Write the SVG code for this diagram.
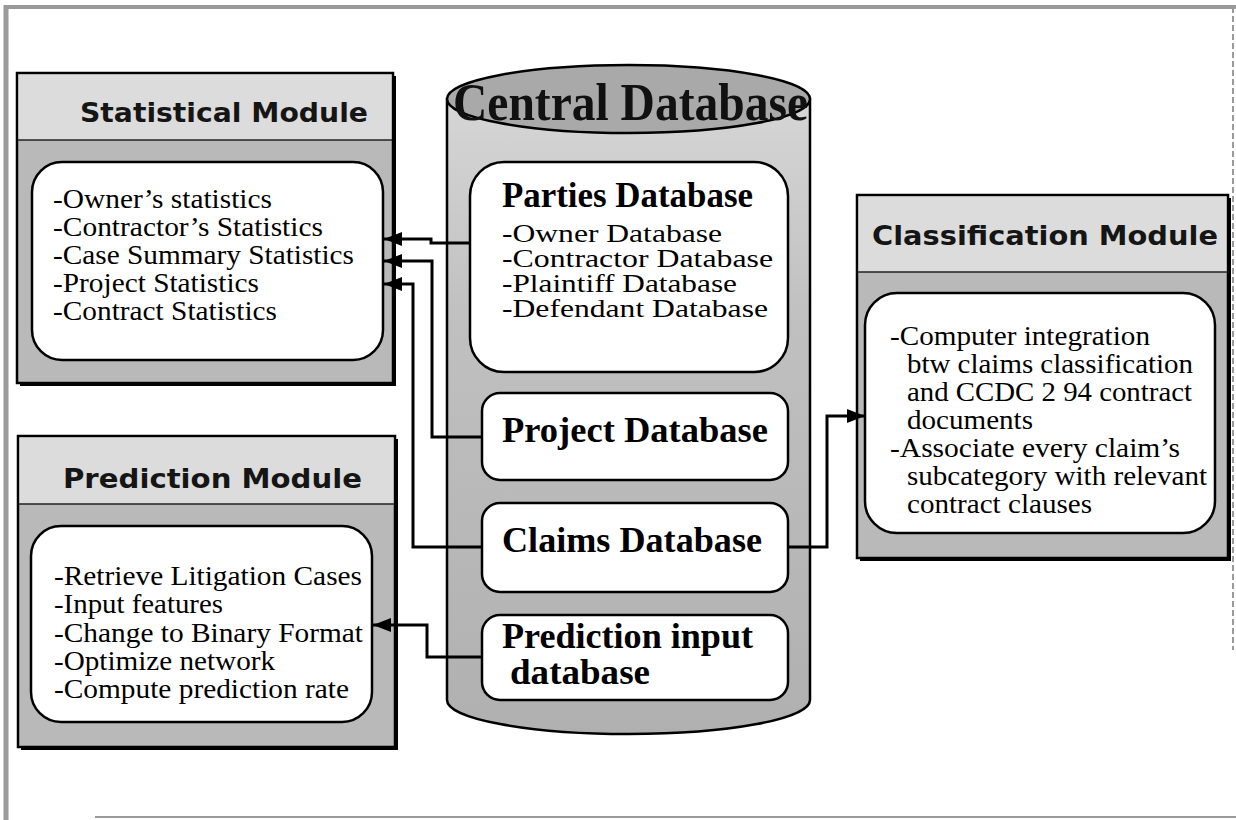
<svg xmlns="http://www.w3.org/2000/svg" width="1236" height="820" viewBox="0 0 1236 820">
  <defs>
    <linearGradient id="cylFill" x1="0" y1="0" x2="0" y2="1">
      <stop offset="0" stop-color="#d6d6d6"/>
      <stop offset="0.35" stop-color="#c0c0c0"/>
      <stop offset="1" stop-color="#b0b0b0"/>
    </linearGradient>
    <marker id="arrow" markerUnits="userSpaceOnUse" markerWidth="20" markerHeight="14" refX="18" refY="7" orient="auto">
      <path d="M0,0 L18,7 L0,14 z" fill="#000"/>
    </marker>
  </defs>
  <style>
    .frame { fill: none; stroke: #9a9a9a; }
    .mod-body { fill: #b9b9b9; stroke: #000; stroke-width: 2.5; }
    .mod-head { fill: #dcdcdc; }
    .sep { stroke: #222; stroke-width: 1.5; }
    .shadow { fill: none; stroke: #000; stroke-width: 4; }
    .panel { fill: #fff; stroke: #000; stroke-width: 2.5; }
    .mod-title { font-family: "DejaVu Sans", Verdana, sans-serif; font-weight: bold; font-size: 27px; fill: #151515; }
    .body { font-family: "Liberation Serif", "Times New Roman", serif; font-size: 27px; fill: #000; }
    .body.tight { font-size: 25px; }
    .db-title { font-family: "Liberation Serif", "Times New Roman", serif; font-weight: bold; font-size: 35px; fill: #000; }
    .cyl-title { font-family: "Liberation Serif", "Times New Roman", serif; font-weight: bold; font-size: 52px; fill: #111; }
    .wire { fill: none; stroke: #000; stroke-width: 3; stroke-linejoin: miter; }
  </style>

  <rect width="1236" height="820" fill="#fff"/>

  <!-- page frame -->
  <g id="frame">
    <line class="frame" x1="6" y1="5" x2="6" y2="820" stroke-width="5"/>
    <line class="frame" x1="4" y1="7" x2="1236" y2="7" stroke-width="4"/>
    <line class="frame" x1="1233" y1="7" x2="1233" y2="650" stroke-width="2" stroke-dasharray="6 3"/>
    <line class="frame" x1="95" y1="817" x2="1236" y2="817" stroke-width="2"/>
  </g>

  <!-- Statistical Module -->
  <g id="statistical-module">
    <rect class="mod-body" x="17" y="73" width="376" height="310"/>
    <rect class="mod-head" x="18.5" y="74.5" width="373" height="65.5"/>
    <line class="sep" x1="18" y1="140" x2="392" y2="140"/>
    <polyline class="shadow" points="394,76 394,384 20,384"/>
    <text class="mod-title" x="80" y="122" textLength="288" lengthAdjust="spacingAndGlyphs">Statistical Module</text>
    <rect class="panel" x="32" y="162" width="351" height="198" rx="30"/>
    <text class="body" x="53" y="208" textLength="219" lengthAdjust="spacingAndGlyphs">-Owner’s statistics</text>
    <text class="body" x="53" y="236" textLength="270" lengthAdjust="spacingAndGlyphs">-Contractor’s Statistics</text>
    <text class="body" x="53" y="264" textLength="301" lengthAdjust="spacingAndGlyphs">-Case Summary Statistics</text>
    <text class="body" x="53" y="292" textLength="206" lengthAdjust="spacingAndGlyphs">-Project Statistics</text>
    <text class="body" x="53" y="320" textLength="224" lengthAdjust="spacingAndGlyphs">-Contract Statistics</text>
  </g>

  <!-- Prediction Module -->
  <g id="prediction-module">
    <rect class="mod-body" x="18" y="436" width="377" height="311"/>
    <rect class="mod-head" x="19.5" y="437.5" width="374" height="66.5"/>
    <line class="sep" x1="19" y1="504" x2="394" y2="504"/>
    <polyline class="shadow" points="396,439 396,748 21,748"/>
    <text class="mod-title" x="63" y="488" textLength="299" lengthAdjust="spacingAndGlyphs">Prediction Module</text>
    <rect class="panel" x="31" y="526" width="341" height="196" rx="30"/>
    <text class="body" x="54" y="585" textLength="308" lengthAdjust="spacingAndGlyphs">-Retrieve Litigation Cases</text>
    <text class="body" x="54" y="613" textLength="169" lengthAdjust="spacingAndGlyphs">-Input features</text>
    <text class="body" x="54" y="642" textLength="309" lengthAdjust="spacingAndGlyphs">-Change to Binary Format</text>
    <text class="body" x="54" y="670" textLength="221" lengthAdjust="spacingAndGlyphs">-Optimize network</text>
    <text class="body" x="54" y="698" textLength="295" lengthAdjust="spacingAndGlyphs">-Compute prediction rate</text>
  </g>

  <!-- Central Database cylinder -->
  <g id="central-database">
    <path d="M447,99 V700 A181.5,34 0 0 0 810,700 V99 Z" fill="url(#cylFill)" stroke="#000" stroke-width="2.5"/>
    <ellipse cx="628.5" cy="99" rx="181.5" ry="34" fill="#a9a9a9" stroke="#000" stroke-width="2.5"/>
    <text class="cyl-title" x="453" y="120" textLength="355" lengthAdjust="spacingAndGlyphs">Central Database</text>
  </g>

  <g id="parties-database">
    <rect class="panel" x="470" y="162" width="318" height="210" rx="34"/>
    <text class="db-title" x="502" y="207" textLength="251" lengthAdjust="spacingAndGlyphs">Parties Database</text>
    <text class="body tight">
      <tspan x="502" y="242" textLength="220" lengthAdjust="spacingAndGlyphs">-Owner Database</tspan>
      <tspan x="502" y="267" textLength="271" lengthAdjust="spacingAndGlyphs">-Contractor Database</tspan>
      <tspan x="502" y="292" textLength="235" lengthAdjust="spacingAndGlyphs">-Plaintiff Database</tspan>
      <tspan x="502" y="317" textLength="266" lengthAdjust="spacingAndGlyphs">-Defendant Database</tspan>
    </text>
  </g>

  <g id="project-database">
    <rect class="panel" x="482" y="393" width="306" height="87" rx="18"/>
    <text class="db-title" x="502" y="442" textLength="266" lengthAdjust="spacingAndGlyphs">Project Database</text>
  </g>

  <g id="claims-database">
    <rect class="panel" x="482" y="503" width="306" height="89" rx="18"/>
    <text class="db-title" x="502" y="552" textLength="260" lengthAdjust="spacingAndGlyphs">Claims Database</text>
  </g>

  <g id="prediction-input-database">
    <rect class="panel" x="482" y="615" width="306" height="85" rx="18"/>
    <text class="db-title">
      <tspan x="502" y="648" textLength="251" lengthAdjust="spacingAndGlyphs">Prediction input</tspan>
      <tspan x="510" y="684" textLength="140" lengthAdjust="spacingAndGlyphs">database</tspan>
    </text>
  </g>

  <!-- Classification Module -->
  <g id="classification-module">
    <rect class="mod-body" x="857" y="195" width="371" height="363"/>
    <rect class="mod-head" x="858.5" y="196.5" width="368" height="75.5"/>
    <line class="sep" x1="858" y1="272" x2="1227" y2="272"/>
    <polyline class="shadow" points="1229,198 1229,559 860,559"/>
    <text class="mod-title" x="872" y="245" textLength="346" lengthAdjust="spacingAndGlyphs">Classification Module</text>
    <rect class="panel" x="865" y="293" width="350" height="240" rx="32"/>
    <text class="body" x="890" y="345" textLength="260" lengthAdjust="spacingAndGlyphs">-Computer integration</text>
    <text class="body" x="907" y="373" textLength="286" lengthAdjust="spacingAndGlyphs">btw claims classification</text>
    <text class="body" x="907" y="401" textLength="285" lengthAdjust="spacingAndGlyphs">and CCDC 2 94 contract</text>
    <text class="body" x="907" y="429" textLength="126" lengthAdjust="spacingAndGlyphs">documents</text>
    <text class="body" x="890" y="457" textLength="290" lengthAdjust="spacingAndGlyphs">-Associate every claim’s</text>
    <text class="body" x="907" y="485" textLength="300" lengthAdjust="spacingAndGlyphs">subcategory with relevant</text>
    <text class="body" x="907" y="513" textLength="185" lengthAdjust="spacingAndGlyphs">contract clauses</text>
  </g>

  <!-- connectors -->
  <g id="connectors">
    <path class="wire" d="M470,243 H431 V239 H384" marker-end="url(#arrow)"/>
    <path class="wire" d="M482,437 H432 V261 H384" marker-end="url(#arrow)"/>
    <path class="wire" d="M482,547 H413 V284 H384" marker-end="url(#arrow)"/>
    <path class="wire" d="M788,547 H827 V416 H865" marker-end="url(#arrow)"/>
    <path class="wire" d="M482,657 H427 V625 H373" marker-end="url(#arrow)"/>
  </g>
</svg>
